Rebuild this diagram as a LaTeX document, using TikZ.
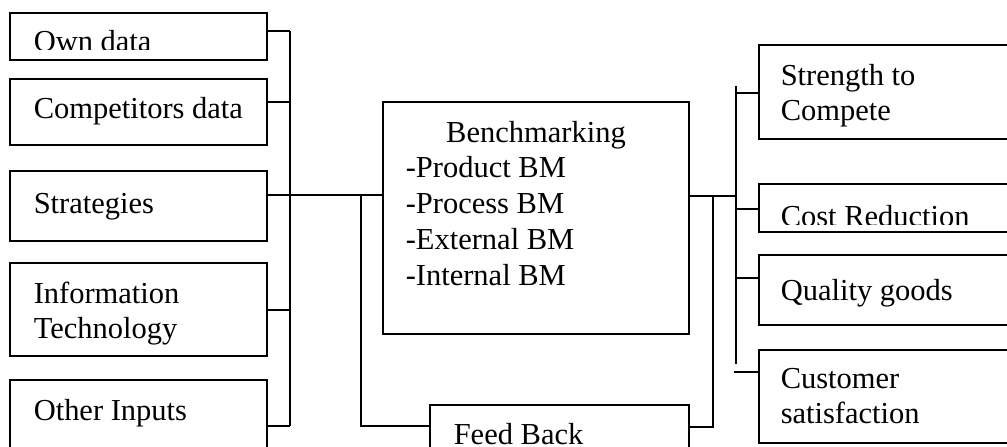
\documentclass[tikz,border=0pt]{standalone}
\usepackage{fontspec}
\setmainfont{Liberation Serif}
\begin{document}
\begin{tikzpicture}[x=1pt,y=-1pt,line width=1.5pt,
  box/.style={draw,rectangle,inner sep=0pt,outer sep=0pt,anchor=north west},
  txt/.style={anchor=base west,inner sep=0pt,font=\fontsize{30.5}{35.7}\selectfont},
  ctxt/.style={anchor=base,inner sep=0pt,font=\fontsize{30.5}{35.7}\selectfont}]
\clip (0,0) rectangle (1007,447);
\fill[white] (0,0) rectangle (1007,447);
% left boxes
\node[box,minimum width=257pt,minimum height=47pt] (own) at (10,13) {};
\node[box,minimum width=257pt,minimum height=66pt] (comp) at (10,79) {};
\node[box,minimum width=257pt,minimum height=70pt] (strat) at (10,171) {};
\node[box,minimum width=257pt,minimum height=93pt] (it) at (10,263) {};
\node[box,minimum width=257pt,minimum height=90pt] (other) at (10,380) {};
% centre boxes
\node[box,minimum width=306pt,minimum height=232pt] (bench) at (383,102) {};
\node[box,minimum width=259pt,minimum height=80pt] (feed) at (430,405) {};
% right boxes
\node[box,minimum width=280pt,minimum height=94pt] (str) at (759,45) {};
\node[box,minimum width=280pt,minimum height=48pt] (cost) at (759,184) {};
\node[box,minimum width=280pt,minimum height=70pt] (qual) at (759,255) {};
\node[box,minimum width=280pt,minimum height=93pt] (cust) at (759,350) {};
% texts
\begin{scope}
\clip (0,0) rectangle (300,49);
\node[txt] (t1) at (33,51) {Own data};
\end{scope}
\node[txt] (t2) at (33,118) {Competitors data};
\node[txt] (t3) at (33,213) {Strategies};
\node[txt] (t4a) at (33,303) {Information};
\node[txt] (t4b) at (33,338) {Technology};
\node[txt] (t5) at (33,420) {Other Inputs};
\node[ctxt] (b0) at (536,142) {Benchmarking};
\node[txt] (b1) at (405,177) {-Product BM};
\node[txt] (b2) at (405,213) {-Process BM};
\node[txt] (b3) at (405,249) {-External BM};
\node[txt] (b4) at (405,285) {-Internal BM};
\node[txt] (f1) at (453,444) {Feed Back};
\node[txt] (r1a) at (780,85) {Strength to};
\node[txt] (r1b) at (780,120) {Compete};
\begin{scope}
\clip (700,0) rectangle (1007,224);
\node[txt] (r2) at (780,226) {Cost Reduction};
\end{scope}
\node[txt] (r3) at (780,300) {Quality goods};
\node[txt] (r4a) at (780,388) {Customer};
\node[txt] (r4b) at (780,423) {satisfaction};
% left bus
\coordinate (lb1) at (290,31);
\coordinate (lb2) at (290,102);
\coordinate (lb3) at (290,195);
\coordinate (lb4) at (290,310);
\coordinate (lb5) at (290,426);
\coordinate (tr1) at (361,195);
\coordinate (tr2) at (361,426);
\draw (own.east |- lb1) -- (lb1);
\draw (comp.east |- lb2) -- (lb2);
\draw (strat.east |- lb3) -- (bench.west |- lb3);
\draw (it.east |- lb4) -- (lb4);
\draw (other.east |- lb5) -- (lb5);
\draw (lb1) -- (lb5);
\draw (tr1) -- (tr2) -- (feed.west |- tr2);
% right side
\coordinate (rj) at (736,196);
\coordinate (fj) at (713,196);
\coordinate (fb) at (713,427);
\coordinate (rt) at (736,86);
\coordinate (rb) at (736,364);
\coordinate (rc) at (734,372);
\draw (bench.east |- rj) -- (rj);
\draw (fj) -- (fb) -- (feed.east |- fb);
\draw (rt) -- (rb);
\draw (736,93) -- (str.west |- 0,93);
\draw (736,209) -- (cost.west |- 0,209);
\draw (736,278) -- (qual.west |- 0,278);
\draw (rc) -- (cust.west |- rc);
\end{tikzpicture}
\end{document}
